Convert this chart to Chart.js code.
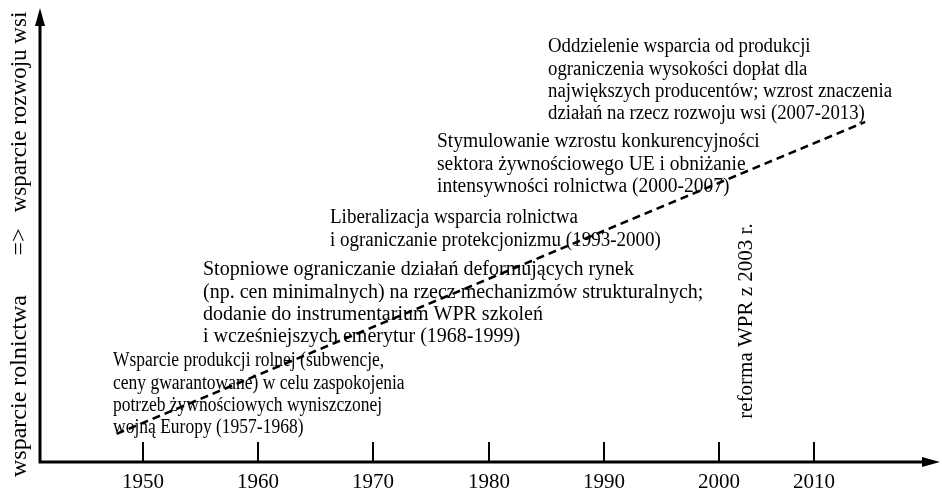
<!DOCTYPE html>
<html lang="pl">
<head>
<meta charset="utf-8">
<title>Ewolucja WPR</title>
<script src="https://cdn.jsdelivr.net/npm/chart.js@4.4.1/dist/chart.umd.min.js"></script>
<style>
  html, body { margin: 0; padding: 0; background: #fff; }
  #wrap { width: 942px; height: 495px; position: relative; }
</style>
</head>
<body>
<div id="wrap"><canvas id="timeline"></canvas></div>
<script>
// Time axis ticks (in the original figure the 2010 tick sits a bit closer)
const tickYears = [1950, 1960, 1970, 1980, 1990, 2000, 2008.3];
const tickLabels = ['1950', '1960', '1970', '1980', '1990', '2000', '2010'];

// Dashed trend: farm support -> rural development support
const trendYears = [1947.7, 2012.7];
const trendLevels = [6.2, 74.9];

const yAxisLabels = ['wsparcie rolnictwa', '=>', 'wsparcie rozwoju wsi'];
const reformLabel = 'reforma WPR z 2003 r.';

const periodNotes = [
    ['Wsparcie produkcji rolnej (subwencje,', 'ceny gwarantowane) w celu zaspokojenia', 'potrzeb żywnościowych wyniszczonej', 'wojną Europy (1957-1968)'],
    ['Stopniowe ograniczanie działań deformujących rynek', '(np. cen minimalnych) na rzecz mechanizmów strukturalnych;', 'dodanie do instrumentarium WPR szkoleń', 'i wcześniejszych emerytur (1968-1999)'],
    ['Liberalizacja wsparcia rolnictwa', 'i ograniczanie protekcjonizmu (1993-2000)'],
    ['Stymulowanie wzrostu konkurencyjności', 'sektora żywnościowego UE i obniżanie', 'intensywności rolnictwa (2000-2007)'],
    ['Oddzielenie wsparcia od produkcji', 'ograniczenia wysokości dopłat dla', 'największych producentów; wzrost znaczenia', 'działań na rzecz rozwoju wsi (2007-2013)']
];

const SERIF = '"Liberation Serif", "DejaVu Serif", serif';

// Axes, arrows, ticks and all the texts
const figurePlugin = {
    id: 'figure',
    afterDatasetsDraw(chart) {
        const ctx = chart.ctx;
        const area = chart.chartArea;
        const xs = chart.scales.x;
        ctx.save();
        ctx.fillStyle = '#000';
        ctx.strokeStyle = '#000';

        // axis lines
        ctx.lineWidth = 3;
        ctx.beginPath();
        ctx.moveTo(area.left, area.top + 14);
        ctx.lineTo(area.left, area.bottom);
        ctx.lineTo(area.right - 14, area.bottom);
        ctx.stroke();

        // arrow heads
        ctx.beginPath();
        ctx.moveTo(area.left, area.top);
        ctx.lineTo(area.left - 5, area.top + 18);
        ctx.lineTo(area.left + 5, area.top + 18);
        ctx.closePath();
        ctx.fill();
        ctx.beginPath();
        ctx.moveTo(area.right, area.bottom);
        ctx.lineTo(area.right - 18, area.bottom - 5);
        ctx.lineTo(area.right - 18, area.bottom + 5);
        ctx.closePath();
        ctx.fill();

        // ticks pointing up, labels below
        ctx.lineWidth = 2;
        ctx.font = '21px ' + SERIF;
        ctx.textAlign = 'center';
        ctx.textBaseline = 'middle';
        tickYears.forEach((yr, i) => {
            const px = Math.round(xs.getPixelForValue(yr));
            ctx.beginPath();
            ctx.moveTo(px, area.bottom - 20);
            ctx.lineTo(px, area.bottom);
            ctx.stroke();
            ctx.fillText(tickLabels[i], px, area.bottom + 20);
        });

        // period notes (same type size, the scan is a little condensed in places)
        const anchors = [[113, 361], [203, 270], [330, 218], [437, 142], [548, 47]];
        const squeeze = [0.875, 1.0, 0.95, 0.975, 0.94];
        ctx.font = '20px ' + SERIF;
        ctx.textAlign = 'left';
        periodNotes.forEach((lines, i) => {
            lines.forEach((txt, j) => {
                ctx.save();
                ctx.translate(anchors[i][0], anchors[i][1] + j * 22.3);
                ctx.scale(squeeze[i], 1);
                ctx.fillText(txt, 0, 0);
                ctx.restore();
            });
        });

        // rotated texts
        const rotated = (txt, x, y, size) => {
            ctx.save();
            ctx.translate(x, y);
            ctx.rotate(-Math.PI / 2);
            ctx.font = size + 'px ' + SERIF;
            ctx.textAlign = 'center';
            ctx.textBaseline = 'middle';
            ctx.fillText(txt, 0, 0);
            ctx.restore();
        };
        rotated(yAxisLabels[0], 20, 386, 24);
        rotated(yAxisLabels[1], 20, 242, 24);
        rotated(yAxisLabels[2], 20, 112, 23);
        rotated(reformLabel, 746, 321, 21);

        ctx.restore();
    }
};

new Chart(document.getElementById('timeline'), {
    type: 'line',
    data: {
        datasets: [{
            data: trendYears.map((yr, i) => ({ x: yr, y: trendLevels[i] })),
            borderColor: '#000',
            borderWidth: 2.5,
            borderDash: [8, 5],
            pointRadius: 0,
            fill: false,
            tension: 0
        }]
    },
    options: {
        responsive: true,
        maintainAspectRatio: false,
        animation: false,
        layout: { padding: { left: 40, right: 2, top: 8, bottom: 33 } },
        plugins: { legend: { display: false }, tooltip: { enabled: false } },
        scales: {
            x: { type: 'linear', min: 1941.05, max: 2019.2, display: false },
            y: { type: 'linear', min: 0, max: 100, display: false }
        }
    },
    plugins: [figurePlugin]
});
</script>
</body>
</html>
